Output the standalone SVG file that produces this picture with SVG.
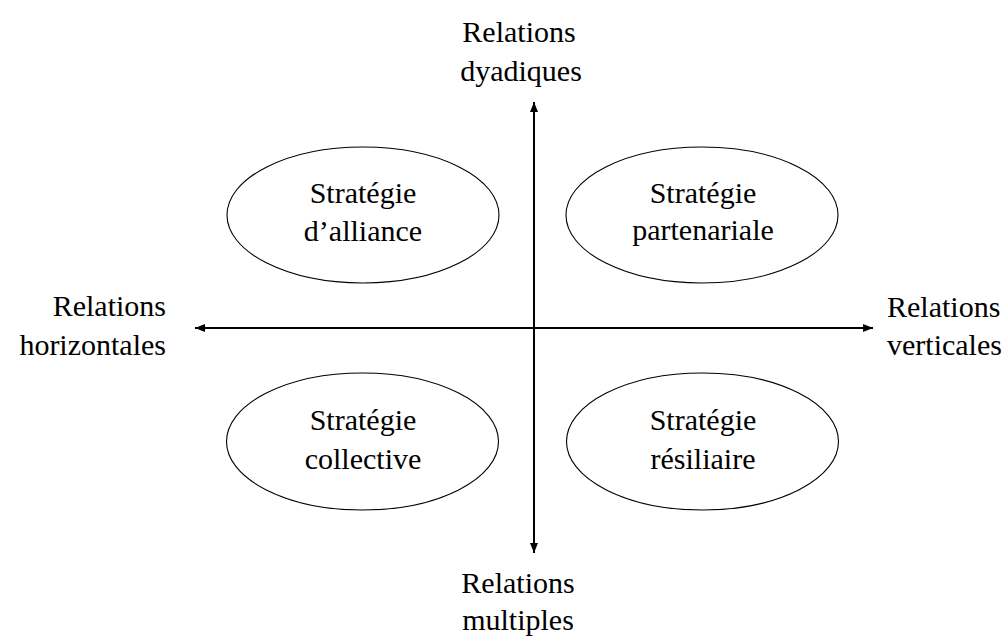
<svg xmlns="http://www.w3.org/2000/svg" width="1007" height="637" viewBox="0 0 1007 637" font-family="'Liberation Serif', 'DejaVu Serif', serif">
<defs>
<style>
text{font-family:'Liberation Serif','DejaVu Serif',serif;font-size:30px;fill:#000}
.c{text-anchor:middle}
.r{text-anchor:end}
.n{fill:#fff;stroke:#000;stroke-width:1.1}
.ax{stroke:#000;stroke-width:2;fill:none}
</style>
<marker id="ah" viewBox="0 0 10 8" refX="10" refY="4" markerWidth="10" markerHeight="8" markerUnits="userSpaceOnUse" orient="auto-start-reverse">
<path d="M0,0 L10,4 L0,8 Z" fill="#000"/>
</marker>
</defs>
<rect width="1007" height="637" fill="#fff"/>
<g id="connectors">
<line class="ax" x1="534" y1="553" x2="534" y2="102" marker-start="url(#ah)" marker-end="url(#ah)"/>
<line class="ax" x1="195" y1="328" x2="873" y2="328" marker-start="url(#ah)" marker-end="url(#ah)"/>
</g>
<g id="label-top">
<text class="c" x="519" y="42">Relations</text>
<text class="c" x="521" y="81">dyadiques</text>
</g>
<g id="label-bottom">
<text class="c" x="518" y="593">Relations</text>
<text class="c" x="518" y="630">multiples</text>
</g>
<g id="label-left">
<text class="r" x="166" y="316">Relations</text>
<text class="r" x="166" y="355">horizontales</text>
</g>
<g id="label-right">
<text x="887" y="317">Relations</text>
<text x="887" y="355">verticales</text>
</g>
<g id="node-alliance">
<ellipse class="n" cx="363" cy="215" rx="136" ry="68"/>
<text class="c" x="363" y="203">Stratégie</text>
<text class="c" x="363" y="241">d’alliance</text>
</g>
<g id="node-partenariale">
<ellipse class="n" cx="702" cy="215" rx="136" ry="68"/>
<text class="c" x="703" y="203">Stratégie</text>
<text class="c" x="703" y="240">partenariale</text>
</g>
<g id="node-collective">
<ellipse class="n" cx="362.5" cy="441.5" rx="136" ry="68.5"/>
<text class="c" x="363" y="430">Stratégie</text>
<text class="c" x="363" y="469">collective</text>
</g>
<g id="node-resiliaire">
<ellipse class="n" cx="702.5" cy="441.5" rx="136" ry="68.5"/>
<text class="c" x="703" y="430">Stratégie</text>
<text class="c" x="703" y="469">résiliaire</text>
</g>
</svg>
